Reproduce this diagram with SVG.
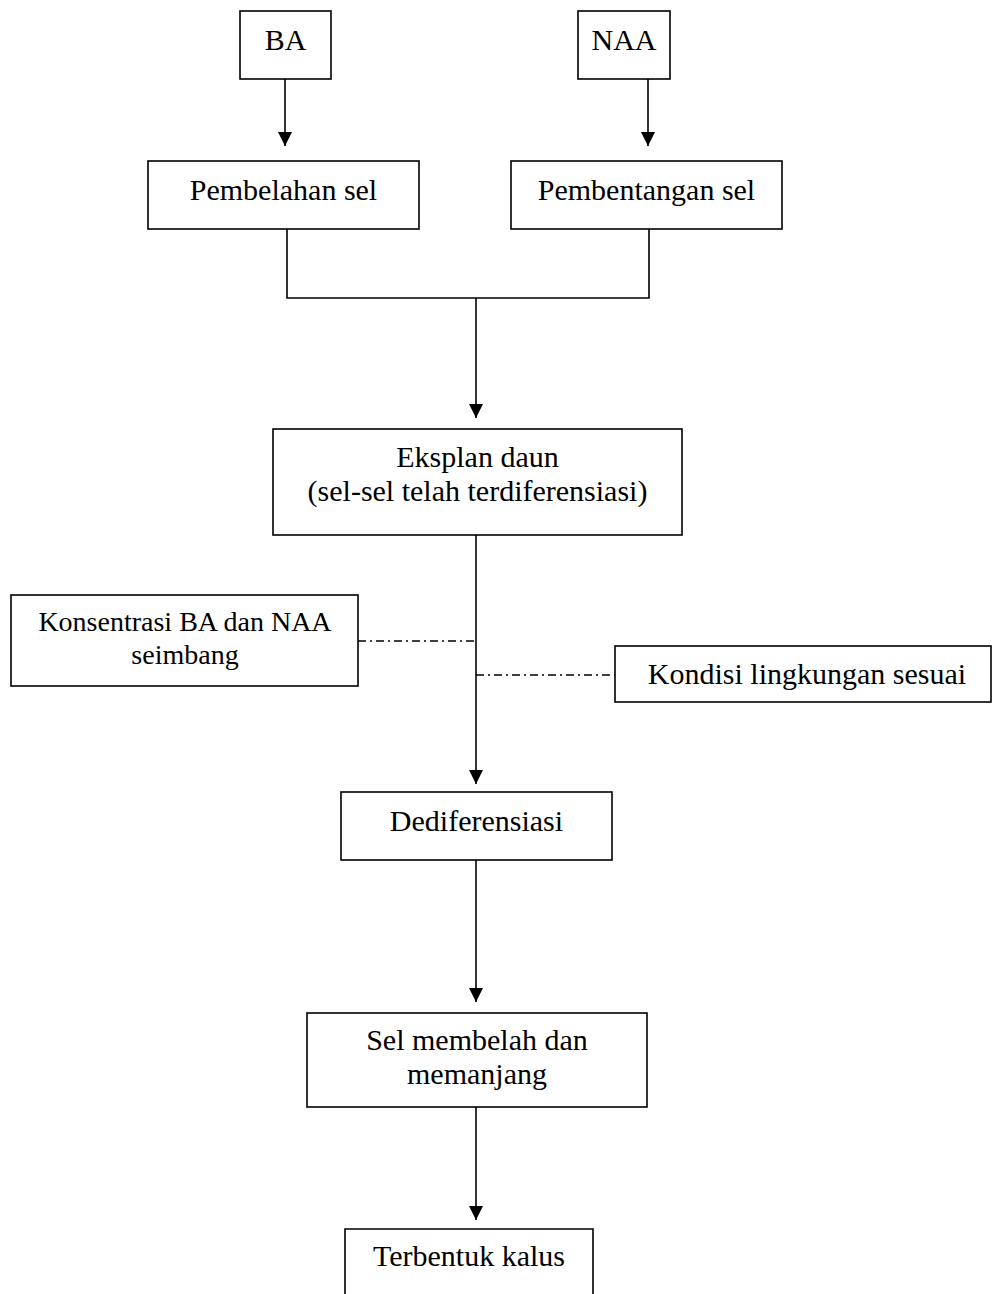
<svg xmlns="http://www.w3.org/2000/svg" width="993" height="1294" viewBox="0 0 993 1294">
<style>
.box{fill:#fff;stroke:#000;stroke-width:1.6}
.t{font-family:"Liberation Serif","Times New Roman",serif;font-size:30px;fill:#000;text-anchor:middle}
.s{font-size:28px}
.c{fill:none;stroke:#000;stroke-width:1.6}
.d{fill:none;stroke:#000;stroke-width:1.3;stroke-dasharray:8 4 2 4}
</style>
<defs>
<marker id="ah" markerUnits="userSpaceOnUse" markerWidth="15" markerHeight="14" refX="14" refY="7" orient="auto">
<path d="M0,0 L14,7 L0,14 Z" fill="#000"/>
</marker>
</defs>
<rect width="993" height="1294" fill="#fff"/>
<g id="connectors">
<line class="c" x1="285" y1="79" x2="285" y2="146" marker-end="url(#ah)"/>
<line class="c" x1="648" y1="79" x2="648" y2="146" marker-end="url(#ah)"/>
<polyline class="c" points="287,229 287,298 649,298 649,229"/>
<line class="c" x1="476" y1="298" x2="476" y2="418" marker-end="url(#ah)"/>
<line class="c" x1="476" y1="535" x2="476" y2="784" marker-end="url(#ah)"/>
<line class="d" x1="358" y1="641" x2="476" y2="641"/>
<line class="d" x1="476" y1="675" x2="615" y2="675"/>
<line class="c" x1="476" y1="860" x2="476" y2="1002" marker-end="url(#ah)"/>
<line class="c" x1="476" y1="1107" x2="476" y2="1220" marker-end="url(#ah)"/>
</g>
<g id="ba"><rect class="box" x="240" y="11" width="91" height="68"/><text class="t" x="285.5" y="50">BA</text></g>
<g id="naa"><rect class="box" x="578" y="11" width="92" height="68"/><text class="t" x="624" y="50">NAA</text></g>
<g id="pembelahan"><rect class="box" x="148" y="161" width="271" height="68"/><text class="t" x="283.5" y="200">Pembelahan sel</text></g>
<g id="pembentangan"><rect class="box" x="511" y="161" width="271" height="68"/><text class="t" x="646.5" y="200">Pembentangan sel</text></g>
<g id="eksplan"><rect class="box" x="273" y="429" width="409" height="106"/><text class="t" x="477.5" y="467">Eksplan daun</text><text class="t" x="477.5" y="501">(sel-sel telah terdiferensiasi)</text></g>
<g id="konsentrasi"><rect class="box" x="11" y="595" width="347" height="91"/><text class="t s" x="185" y="631">Konsentrasi BA dan NAA</text><text class="t s" x="185" y="664">seimbang</text></g>
<g id="kondisi"><rect class="box" x="615" y="646" width="376" height="56"/><text class="t" x="807" y="684">Kondisi lingkungan sesuai</text></g>
<g id="dediferensiasi"><rect class="box" x="341" y="792" width="271" height="68"/><text class="t" x="476.5" y="831">Dediferensiasi</text></g>
<g id="selmembelah"><rect class="box" x="307" y="1013" width="340" height="94"/><text class="t" x="477" y="1050">Sel membelah dan</text><text class="t" x="477" y="1084">memanjang</text></g>
<g id="terbentuk"><path class="c" d="M345,1296 V1229 H593 V1296"/><text class="t" x="469" y="1266">Terbentuk kalus</text></g>
</svg>
